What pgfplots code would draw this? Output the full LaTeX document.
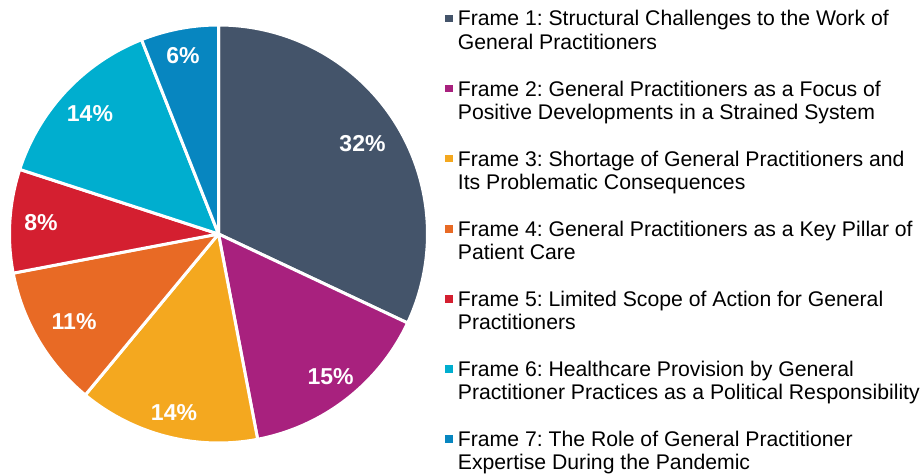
\documentclass[border=0pt]{standalone}
\usepackage{pgfplots}
\pgfplotsset{compat=1.18}
\usepackage{pgfplotstable}
\usepackage{fontspec}
\setmainfont{Liberation Sans}
\frenchspacing
\definecolor{c1}{HTML}{44546A}
\definecolor{c2}{HTML}{A8217E}
\definecolor{c3}{HTML}{F4A81F}
\definecolor{c4}{HTML}{E86A25}
\definecolor{c5}{HTML}{D41F30}
\definecolor{c6}{HTML}{00AECF}
\definecolor{c7}{HTML}{0786C0}
% share in percent; slices run clockwise from 12 o'clock
\pgfplotstableread{
x      y      pct
0.689  0.434  32
0.536  -0.683 15
-0.213 -0.856 14
-0.691 -0.420 11
-0.849 0.053  8
-0.615 0.575  14
-0.170 0.856  6
}\labels
\newcommand{\pieslice}[3]{% start angle, percent, colour
  \addplot[fill=#3, draw=white, line width=3pt, line join=round,
    domain={#1-3.6*#2}:{#1}, samples=90, variable=\t]
    ({cos(\t)},{sin(\t)}) -- (0,0) -- cycle;}
\begin{document}
\begin{tikzpicture}[x=1pt,y=1pt]
\useasboundingbox (0pt,0pt) rectangle (922pt,476pt);
\begin{axis}[at={(218.5pt,242pt)}, anchor=center, scale only axis,
  width=418pt, height=418pt, xmin=-1, xmax=1, ymin=-1, ymax=1,
  hide axis, clip=false, /pgf/number format/assume math mode=true]
\pieslice{90}{32}{c1}
\pieslice{-25.2}{15}{c2}
\pieslice{-79.2}{14}{c3}
\pieslice{-129.6}{11}{c4}
\pieslice{-169.2}{8}{c5}
\pieslice{-198}{14}{c6}
\pieslice{-248.4}{6}{c7}
\addplot[draw=none, mark=none, point meta=explicit,
  nodes near coords={\pgfmathprintnumber[fixed,precision=0]{\pgfplotspointmeta}\%},
  nodes near coords style={anchor=center, text=white, inner sep=0pt,
    font=\fontsize{23}{27}\selectfont\bfseries}]
  table[x=x, y=y, meta=pct] {\labels};
\end{axis}
\begin{scope}[font=\fontsize{21.2}{23}\selectfont, text=black]
\foreach \i/\a/\b/\c in {
 0/{Frame 1: Structural Challenges to the Work of}/{General Practitioners}/c1,
 1/{Frame 2: General Practitioners as a Focus of}/{Positive Developments in a Strained System}/c2,
 2/{Frame 3: Shortage of General Practitioners and}/{Its Problematic Consequences}/c3,
 3/{Frame 4: General Practitioners as a Key Pillar of}/{Patient Care}/c4,
 4/{Frame 5: Limited Scope of Action for General}/{Practitioners}/c5,
 5/{Frame 6: Healthcare Provision by General}/{Practitioner Practices as a Political Responsibility}/c6,
 6/{Frame 7: The Role of General Practitioner}/{Expertise During the Pandemic}/c7}
{
  \fill[\c] (445pt,{(453.7-70.1*\i)*1pt}) rectangle ++(7.5pt,7.5pt);
  \node[anchor=base west, inner sep=0pt] at (457.7pt,{(450-70.1*\i)*1pt}) {\a};
  \node[anchor=base west, inner sep=0pt] at (457.7pt,{(426.7-70.1*\i)*1pt}) {\b};
}
\end{scope}
\end{tikzpicture}
\end{document}
